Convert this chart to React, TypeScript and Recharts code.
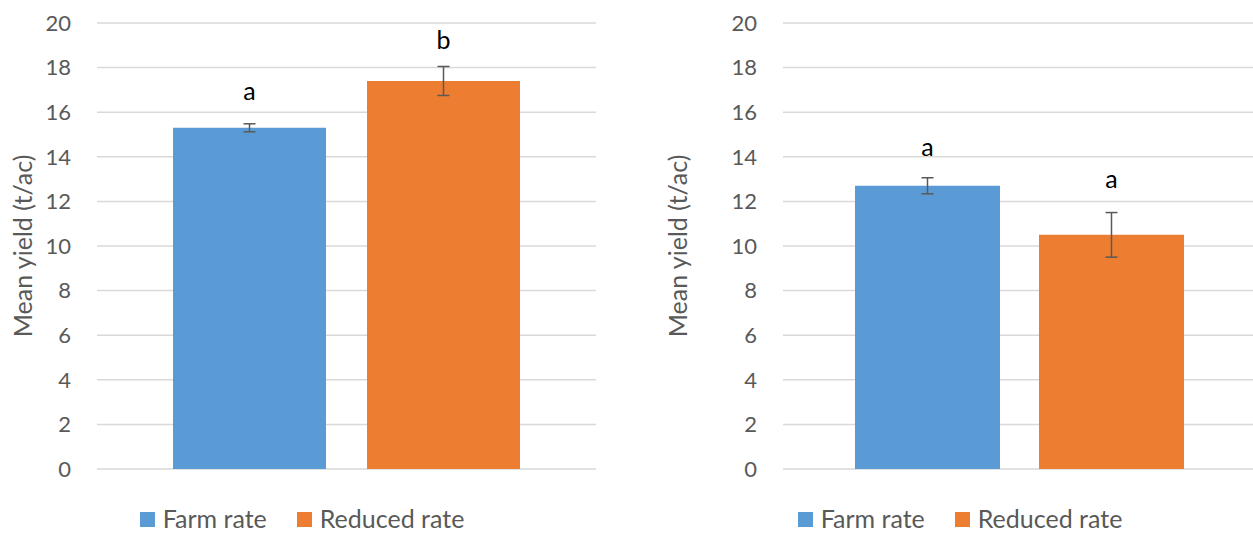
import React from 'react';
import { ComposedChart, Bar, XAxis, YAxis, CartesianGrid, ErrorBar, LabelList, Legend } from 'recharts';

const category = ['Treatment'];
const seriesNames = ['Farm rate', 'Reduced rate'];
const seriesColors = ['#5B9BD5', '#ED7D31'];
const yTicks = [0, 2, 4, 6, 8, 10, 12, 14, 16, 18, 20];
const yLabel = 'Mean yield (t/ac)';

const leftMeans = [15.3, 17.4];
const leftErrors = [0.18, 0.65];
const leftLetters = ['a', 'b'];
const leftLetterLevel = [17.0, 19.3];

const rightMeans = [12.7, 10.5];
const rightErrors = [0.36, 1.0];
const rightLetters = ['a', 'a'];
const rightLetterLevel = [14.5, 13.05];

const FONT = 'Lato, "Open Sans", sans-serif';
const TEXT = '#595959';

function buildRow(means: number[], errors: number[]) {
  return [
    {
      name: category[0],
      s0: means[0],
      e0: errors[0],
      s1: means[1],
      e1: errors[1],
    },
  ];
}

const makeLetter = (letter: string, level: number) => (props: any) => {
  const { x, y, width, height, value } = props;
  const perUnit = Number(height) / Number(value);
  const cy = Number(y) + Number(height) - level * perUnit;
  return (
    <text
      x={Number(x) + Number(width) / 2}
      y={cy}
      textAnchor="middle"
      dominantBaseline="central"
      fill="#000000"
      fontSize={25}
      fontFamily={FONT}
    >
      {letter}
    </text>
  );
};

const yTitle = (offsetX: number) => (props: any) => {
  const vb = props.viewBox || {};
  const cx = (vb.x || 0) + offsetX;
  const cy = (vb.y || 0) + (vb.height || 0) / 2;
  return (
    <text
      x={cx}
      y={cy}
      transform={`rotate(-90, ${cx}, ${cy})`}
      textAnchor="middle"
      dominantBaseline="central"
      fill={TEXT}
      fontSize={25}
      fontFamily={FONT}
    >
      {yLabel}
    </text>
  );
};

const LegendContent = () => (
  <div
    style={{
      height: 64,
      display: 'flex',
      alignItems: 'flex-end',
      justifyContent: 'center',
      fontFamily: FONT,
      fontSize: 25,
      color: TEXT,
    }}
  >
    {seriesNames.map((n, i) => (
      <div
        key={n}
        style={{ display: 'flex', alignItems: 'center', marginRight: i === 0 ? 30 : 0, lineHeight: '30px' }}
      >
        <span style={{ display: 'inline-block', width: 15, height: 15, background: seriesColors[i], marginRight: 8, marginTop: 2 }} />
        <span>{n}</span>
      </div>
    ))}
  </div>
);

type PanelProps = {
  means: number[];
  errors: number[];
  letters: string[];
  levels: number[];
  width: number;
  axisWidth: number;
  marginRight: number;
  catGap: number;
  barGap: number;
  titleX: number;
  legendLeft: number;
  legendWidth: number;
};

function Panel(p: PanelProps) {
  const data = buildRow(p.means, p.errors);
  return (
    <ComposedChart
      width={p.width}
      height={533}
      data={data}
      margin={{ top: 23, right: p.marginRight, bottom: 0, left: 0 }}
      barCategoryGap={p.catGap}
      barGap={p.barGap}
    >
      <CartesianGrid vertical={false} stroke="#D9D9D9" strokeWidth={1.5} />
      <XAxis dataKey="name" hide />
      <YAxis
        width={p.axisWidth}
        domain={[0, 20]}
        ticks={yTicks}
        interval={0}
        axisLine={false}
        tickLine={false}
        tickSize={0}
        tickMargin={26}
        tick={{ fill: TEXT, fontSize: 22, fontFamily: FONT }}
        label={yTitle(p.titleX)}
      />
      <Legend
        verticalAlign="bottom"
        content={<LegendContent />}
        wrapperStyle={{ left: p.legendLeft, width: p.legendWidth, bottom: 0 }}
      />
      {[0, 1].map((i) => (
        <Bar
          key={i}
          dataKey={`s${i}`}
          name={seriesNames[i]}
          fill={seriesColors[i]}
          isAnimationActive={false}
        >
          <ErrorBar dataKey={`e${i}`} width={6} stroke="#595959" strokeWidth={1.5} direction="y" />
          <LabelList dataKey={`s${i}`} content={makeLetter(p.letters[i], p.levels[i])} />
        </Bar>
      ))}
    </ComposedChart>
  );
}

export default function App() {
  return (
    <div
      style={{
        position: 'absolute',
        left: 0,
        top: 0,
        width: 1253,
        height: 533,
        overflow: 'hidden',
        background: '#ffffff',
      }}
    >
      <div style={{ position: 'absolute', left: 0, top: 0 }}>
        <Panel
          means={leftMeans}
          errors={leftErrors}
          letters={leftLetters}
          levels={leftLetterLevel}
          width={604}
          axisWidth={97}
          marginRight={8}
          catGap={76}
          barGap={41}
          titleX={22}
          legendLeft={0}
          legendWidth={604}
        />
      </div>
      <div style={{ position: 'absolute', left: 660, top: 0 }}>
        <Panel
          means={rightMeans}
          errors={rightErrors}
          letters={rightLetters}
          levels={rightLetterLevel}
          width={600}
          axisWidth={123}
          marginRight={4}
          catGap={72}
          barGap={39}
          titleX={17}
          legendLeft={0}
          legendWidth={600}
        />
      </div>
    </div>
  );
}
